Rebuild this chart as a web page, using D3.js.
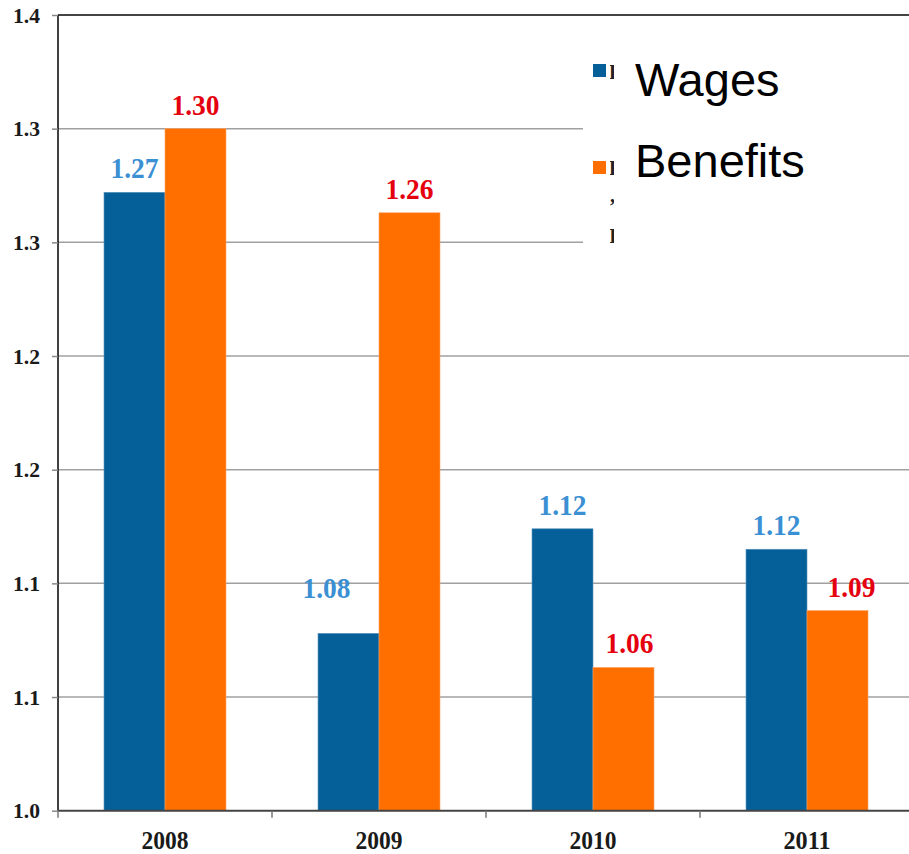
<!DOCTYPE html>
<html>
<head>
<meta charset="utf-8">
<script src="https://cdn.jsdelivr.net/npm/d3@7"></script>
<style>
  html, body { margin: 0; padding: 0; background: #fff; }
  svg { display: block; }
  .num { font-family: "Liberation Serif", "Times New Roman", serif; font-weight: bold; }
  .legend text { font-family: "Liberation Sans", Arial, sans-serif; }
</style>
</head>
<body>
<div id="chart"></div>
<script>
// data
const years = ['2008', '2009', '2010', '2011']
const series = ['Wages', 'Benefits']
const wages = [1.272, 1.078, 1.124, 1.115]
const benefits = [1.300, 1.263, 1.063, 1.088]
const wageLabels = ['1.27', '1.08', '1.12', '1.12']
const benefitLabels = ['1.30', '1.26', '1.06', '1.09']
const yTicks = [1.0, 1.05, 1.1, 1.15, 1.2, 1.25, 1.3, 1.35]
const yTickLabels = ['1.0', '1.1', '1.1', '1.2', '1.2', '1.3', '1.3', '1.4']

const width = 909, height = 854
const colors = { Wages: '#05609a', Benefits: '#ff6f00' }
const labelColors = { Wages: '#3b8fd3', Benefits: '#e5000f' }
// hand-placed label nudges, as in the original
const nudge = {
  Wages: [[0, 0], [-22, -21], [0, 0], [0, 0]],
  Benefits: [[0, 0], [0, 0], [6, 0], [14, 0]]
}

const svg = d3.select('#chart').append('svg')
  .attr('width', width)
  .attr('height', height)

const m = { left: 58, right: 914, top: 15, bottom: 810.7 }

const x0 = d3.scaleBand().domain(years).range([m.left, m.right])
  .paddingInner(0.43).paddingOuter(0.215)
const x1 = d3.scaleBand().domain(series).range([0, x0.bandwidth()])
const y = d3.scaleLinear().domain([1.0, 1.35]).range([m.bottom, m.top])

// gridlines
svg.append('g')
  .selectAll('line')
  .data(yTicks.slice(1))
  .join('line')
  .attr('x1', m.left).attr('x2', width)
  .attr('y1', d => y(d)).attr('y2', d => y(d))
  .attr('stroke', d => d === 1.35 ? '#444' : '#a0a0a0')
  .attr('stroke-width', d => d === 1.35 ? 2 : 1.5)

// bars
const rows = years.map((yr, i) => ({ year: yr, i, values: [
  { key: 'Wages', value: wages[i], label: wageLabels[i] },
  { key: 'Benefits', value: benefits[i], label: benefitLabels[i] }
] }))

const groups = svg.append('g').selectAll('g')
  .data(rows)
  .join('g')
  .attr('transform', d => `translate(${x0(d.year)},0)`)

groups.selectAll('rect')
  .data(d => d.values)
  .join('rect')
  .attr('x', d => x1(d.key))
  .attr('width', x1.bandwidth())
  .attr('y', d => y(d.value))
  .attr('height', d => y(1.0) - y(d.value))
  .attr('fill', d => colors[d.key])
  .attr('stroke', d => d.key === 'Wages' ? '#5a93bd' : '#ffa060')
  .attr('stroke-width', 0.6)

groups.each(function (row) {
  d3.select(this).selectAll('text')
    .data(row.values)
    .join('text')
    .attr('class', 'num')
    .attr('x', d => x1(d.key) + x1.bandwidth() / 2 + nudge[d.key][row.i][0])
    .attr('y', d => y(d.value) - 14 + nudge[d.key][row.i][1])
    .attr('text-anchor', 'middle')
    .attr('font-size', 29)
    .attr('textLength', 48)
    .attr('lengthAdjust', 'spacingAndGlyphs')
    .attr('fill', d => labelColors[d.key])
    .text(d => d.label)
})

// y axis
const yAxis = d3.axisLeft(y)
  .tickValues(yTicks)
  .tickFormat((d, i) => yTickLabels[i])
  .tickSize(6)
  .tickPadding(12)

const ya = svg.append('g')
  .attr('transform', `translate(${m.left},0)`)
  .call(yAxis)
ya.select('.domain').attr('stroke', '#111').attr('stroke-width', 1.6)
  .attr('d', `M0,${m.top}V${m.bottom}`)
ya.selectAll('.tick line').attr('stroke', '#888').attr('stroke-width', 1.5)
ya.selectAll('.tick text')
  .attr('class', 'num')
  .attr('font-size', 22)
  .attr('textLength', 27)
  .attr('lengthAdjust', 'spacingAndGlyphs')
  .attr('fill', '#1a1a1a')

// x axis
const xa = svg.append('g')
  .attr('transform', `translate(0,${m.bottom})`)
xa.append('line')
  .attr('x1', m.left).attr('x2', width)
  .attr('stroke', '#444').attr('stroke-width', 2)
xa.selectAll('line.tk')
  .data(years)
  .join('line')
  .attr('class', 'tk')
  .attr('x1', d => x0(d) - x0.step() * 0.215).attr('x2', d => x0(d) - x0.step() * 0.215)
  .attr('y1', 0).attr('y2', 7)
  .attr('stroke', '#777').attr('stroke-width', 1.5)
xa.selectAll('text')
  .data(years)
  .join('text')
  .attr('class', 'num')
  .attr('x', d => x0(d) + x0.bandwidth() / 2)
  .attr('y', 38.5)
  .attr('text-anchor', 'middle')
  .attr('font-size', 26)
  .attr('textLength', 47)
  .attr('lengthAdjust', 'spacingAndGlyphs')
  .attr('fill', '#1a1a1a')
  .text(d => d)

// legend, pasted over the old one
const legend = svg.append('g').attr('class', 'legend')
legend.append('rect')
  .attr('x', 583).attr('y', 40)
  .attr('width', width - 583).attr('height', 212)
  .attr('fill', '#fff')

svg.append('clipPath').attr('id', 'remnant')
  .append('rect').attr('x', 610).attr('y', 40).attr('width', 4).attr('height', 212)
const old = svg.append('g').attr('clip-path', 'url(#remnant)')
  .attr('class', 'num')
old.selectAll('text')
  .data([['P', 79], ['P', 175], ['\u2019', 213], ['I', 243]])
  .join('text')
  .attr('x', 609)
  .attr('y', d => d[1])
  .attr('font-size', 20)
  .attr('fill', '#222')
  .text(d => d[0])

const swatchY = [64, 161]
const textY = [96, 177]
legend.selectAll('rect.sw')
  .data(series)
  .join('rect')
  .attr('class', 'sw')
  .attr('x', 593).attr('y', (d, i) => swatchY[i])
  .attr('width', 13).attr('height', 13)
  .attr('fill', d => colors[d])
legend.selectAll('text')
  .data(series)
  .join('text')
  .attr('x', 635)
  .attr('y', (d, i) => textY[i])
  .attr('font-size', 47)
  .attr('fill', '#000')
  .text(d => d)
</script>
</body>
</html>
